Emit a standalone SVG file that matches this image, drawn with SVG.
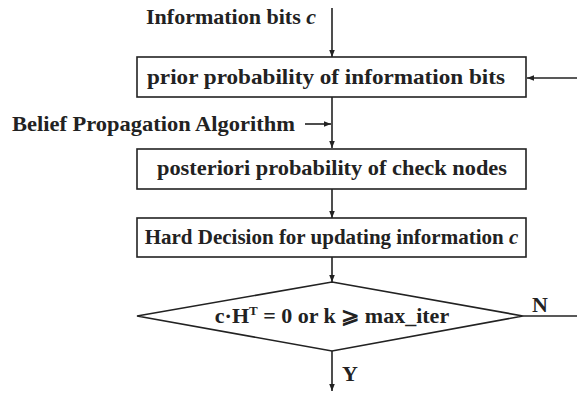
<svg xmlns="http://www.w3.org/2000/svg" width="577" height="393" viewBox="0 0 577 393">
  <defs>
    <marker id="arr" viewBox="0 0 10 10" refX="10" refY="5" markerWidth="7" markerHeight="7" orient="auto" markerUnits="userSpaceOnUse">
      <path d="M0,1 L10,5 L0,9 Z" fill="#222"/>
    </marker>
    <style>
      .box { fill: #fff; stroke: #222; stroke-width: 1.6; }
      .ln { fill: none; stroke: #222; stroke-width: 1.6; }
      text { font-family: "Liberation Serif", "Times New Roman", serif; font-weight: bold; fill: #222; }
      .t { font-size: 22px; text-anchor: middle; }
      .t.sm { font-size: 21px; }
      .lbl { font-size: 22px; }
    </style>
  </defs>

  <g id="connectors">
    <line class="ln" x1="332" y1="8" x2="332" y2="57" marker-end="url(#arr)"/>
    <line class="ln" x1="577" y1="78" x2="527" y2="78" marker-end="url(#arr)"/>
    <line class="ln" x1="332" y1="97" x2="332" y2="148" marker-end="url(#arr)"/>
    <line class="ln" x1="305" y1="124" x2="331" y2="124" marker-end="url(#arr)"/>
    <line class="ln" x1="332" y1="188" x2="332" y2="218" marker-end="url(#arr)"/>
    <line class="ln" x1="332" y1="257" x2="332" y2="282" marker-end="url(#arr)"/>
    <line class="ln" x1="523" y1="316" x2="577" y2="316"/>
    <line class="ln" x1="332" y1="351" x2="332" y2="391" marker-end="url(#arr)"/>
  </g>

  <g id="input-label">
    <text class="lbl" x="146" y="24" textLength="170" lengthAdjust="spacingAndGlyphs">Information bits <tspan font-style="italic">c</tspan></text>
  </g>
  <g id="bp-label">
    <text class="lbl" x="12" y="131" textLength="283" lengthAdjust="spacingAndGlyphs">Belief Propagation Algorithm</text>
  </g>

  <g id="prior">
    <rect class="box" x="137" y="57" width="389" height="40"/>
    <text class="t" x="326" y="84" textLength="358" lengthAdjust="spacingAndGlyphs">prior probability of information bits</text>
  </g>
  <g id="posterior">
    <rect class="box" x="137" y="149" width="389" height="40"/>
    <text class="t" x="332" y="175" textLength="350" lengthAdjust="spacingAndGlyphs">posteriori probability of check nodes</text>
  </g>
  <g id="hard-decision">
    <rect class="box" x="137" y="218" width="389" height="39"/>
    <text class="t sm" x="331.5" y="244">Hard Decision for updating information <tspan font-style="italic">c</tspan></text>
  </g>
  <g id="check">
    <polygon class="box" points="332,282 523,316 332,351 137,316"/>
    <text class="t" x="332" y="323">c·H<tspan font-size="13" dy="-8">T</tspan><tspan dy="8"> = 0 or k ⩾ max_iter</tspan></text>
  </g>
  <g id="branch-labels">
    <text class="lbl" x="532" y="312">N</text>
    <text class="lbl" x="342" y="381">Y</text>
  </g>
</svg>
